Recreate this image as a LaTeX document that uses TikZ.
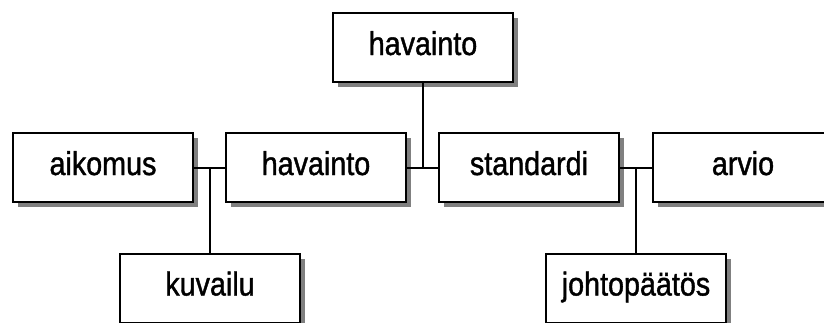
\documentclass[tikz,border=0pt]{standalone}
\usepackage{fontspec}
\setmainfont{Liberation Sans}[FakeStretch=0.87,FakeBold=1.2]
\usetikzlibrary{shadows}
\begin{document}
\begin{tikzpicture}[x=1pt,y=-1pt,
  conceptbox/.style={draw, line width=2pt, fill=white,
    minimum width=180pt, minimum height=69pt, inner sep=0pt,
    text height=23pt, text depth=8pt,
    font=\fontsize{33}{39}\selectfont,
    drop shadow={shadow xshift=5pt, shadow yshift=-5pt, fill=black!50, opacity=1}},
  link/.style={line width=2pt}]
  \useasboundingbox (0,0) rectangle (824,322);
  \clip (0,0) rectangle (824,322);

  % concept boxes
  \node[conceptbox] (obs1)  at (423,47.5)  {havainto};
  \node[conceptbox] (aim)   at (103,167.5) {aikomus};
  \node[conceptbox] (obs2)  at (316,167.5) {havainto};
  \node[conceptbox] (std)   at (529,167.5) {standardi};
  \node[conceptbox] (eval)  at (743,167.5) {arvio};
  \node[conceptbox] (descr) at (210,288)   {kuvailu};
  \node[conceptbox] (concl) at (636,288)   {johtopäätös};

  % connectors
  \draw[link] (aim.east) -- (obs2.west);
  \draw[link] (descr.north) -- (descr.north |- aim.east);
  \draw[link] (obs2.east) -- (std.west);
  \draw[link] (obs1.south) -- (obs1.south |- std.west);
  \draw[link] (std.east) -- (eval.west);
  \draw[link] (concl.north) -- (concl.north |- std.east);
\end{tikzpicture}
\end{document}
